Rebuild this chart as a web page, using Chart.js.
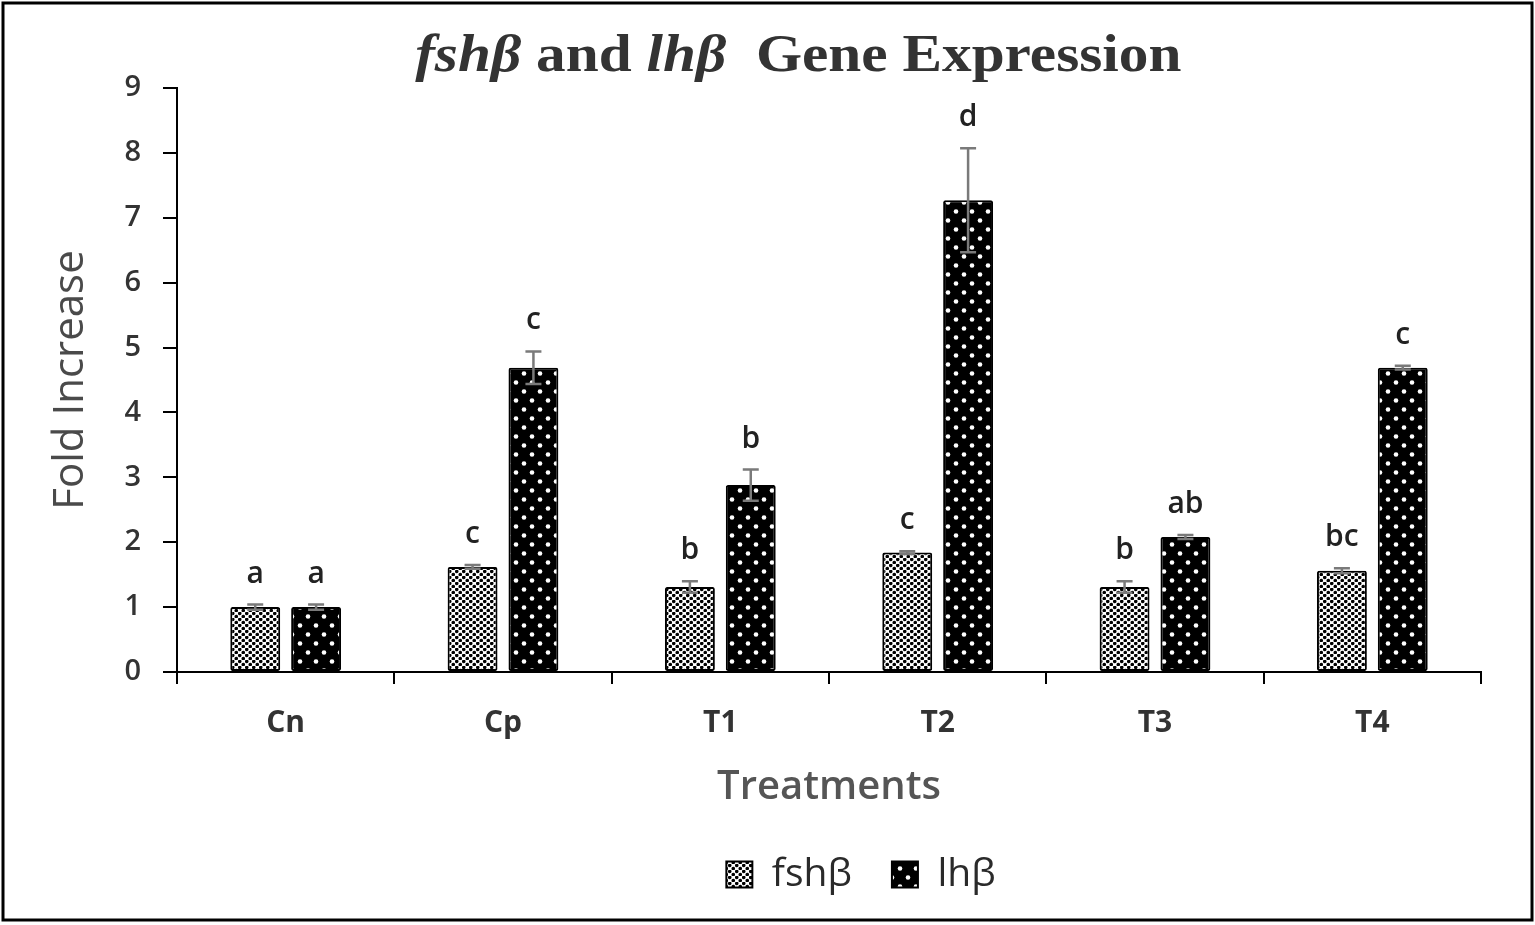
<!DOCTYPE html>
<html>
<head>
<meta charset="utf-8">
<script src="https://cdn.jsdelivr.net/npm/chart.js@4.4.1/dist/chart.umd.min.js"></script>
<style>
  html, body { margin: 0; padding: 0; background: #fff; }
  #wrap { width: 1535px; height: 925px; }
</style>
</head>
<body>
<div id="wrap"><canvas id="myChart" width="1535" height="925"></canvas></div>
<script>
const treatments = ['Cn', 'Cp', 'T1', 'T2', 'T3', 'T4'];
const fshValues = [1.00, 1.62, 1.31, 1.84, 1.31, 1.56];
const fshErrors = [0.04, 0.03, 0.09, 0.02, 0.09, 0.04];
const fshLetters = ['a', 'c', 'b', 'c', 'b', 'bc'];
const lhValues = [1.00, 4.69, 2.88, 7.27, 2.08, 4.69];
const lhErrors = [0.04, 0.25, 0.24, 0.80, 0.03, 0.03];
const lhLetters = ['a', 'c', 'b', 'd', 'ab', 'c'];
const yTicks = [0, 1, 2, 3, 4, 5, 6, 7, 8, 9];

const errors = [fshErrors, lhErrors];
const letters = [fshLetters, lhLetters];

// dotted fills like the original Excel patterns
function makePattern(bg, fg, w, h, dots, r) {
    const c = document.createElement('canvas');
    c.width = w;
    c.height = h;
    const g = c.getContext('2d');
    g.fillStyle = bg;
    g.fillRect(0, 0, w, h);
    g.fillStyle = fg;
    dots.forEach(d => {
        g.beginPath();
        g.arc(d[0], d[1], r, 0, Math.PI * 2);
        g.fill();
    });
    return g.createPattern(c, 'repeat');
}

const ctx = document.getElementById('myChart').getContext('2d');
const fshFill = makePattern('#ffffff', '#000000', 7, 6, [[1.75, 1.5], [5.25, 4.5]], 1.8);
const lhFill = makePattern('#000000', '#ffffff', 16, 18, [[4, 4.5], [12, 13.5]], 2.3);

const frame = {
    id: 'frame',
    afterDraw(chart) {
        const c = chart.ctx;
        c.save();
        c.strokeStyle = '#000';
        c.lineWidth = 3;
        c.strokeRect(3, 3, chart.width - 6, chart.height - 8);
        c.restore();
    }
};

// the original legend sits a little right of the plot centre
const legendShift = {
    id: 'legendShift',
    afterLayout(chart) {
        if (chart.legend) {
            chart.legend.left += 32;
            chart.legend.right += 32;
        }
    }
};

const mixedTitle = {
    id: 'mixedTitle',
    afterDraw(chart) {
        const c = chart.ctx;
        const parts = [
            { t: 'fshβ', i: true },
            { t: ' and ', i: false },
            { t: 'lhβ', i: true },
            { t: '  Gene Expression', i: false }
        ];
        const fontOf = p => (p.i ? 'italic ' : '') + 'bold 52px "Liberation Serif", "DejaVu Serif", serif';
        const stretch = 1.14;
        c.save();
        let total = 0;
        parts.forEach(p => { c.font = fontOf(p); total += c.measureText(p.t).width; });
        const area = chart.chartArea;
        const cx = (chart.width / 2 + (area.left + area.right) / 2) / 2;
        c.translate(cx - total * stretch / 2, 71);
        c.scale(stretch, 1);
        let x = 0;
        c.fillStyle = '#333333';
        c.textBaseline = 'alphabetic';
        parts.forEach(p => {
            c.font = fontOf(p);
            c.fillText(p.t, x, 0);
            x += c.measureText(p.t).width;
        });
        c.restore();
    }
};

const errorBars = {
    id: 'errorBars',
    afterDatasetsDraw(chart) {
        const c = chart.ctx;
        const y = chart.scales.y;
        c.save();
        chart.data.datasets.forEach((ds, i) => {
            const meta = chart.getDatasetMeta(i);
            meta.data.forEach((bar, j) => {
                const v = ds.data[j];
                const e = errors[i][j];
                const top = y.getPixelForValue(v + e);
                const bot = y.getPixelForValue(v - e);
                c.strokeStyle = '#7a7a7a';
                c.lineWidth = 2.5;
                c.beginPath();
                c.moveTo(bar.x, top);
                c.lineTo(bar.x, bot);
                c.moveTo(bar.x - 8, top);
                c.lineTo(bar.x + 8, top);
                c.moveTo(bar.x - 8, bot);
                c.lineTo(bar.x + 8, bot);
                c.stroke();
                c.fillStyle = '#222222';
                c.font = '600 30px "Open Sans", sans-serif';
                c.textAlign = 'center';
                c.textBaseline = 'alphabetic';
                c.fillText(letters[i][j], bar.x, top - 22);
            });
        });
        c.restore();
    }
};

new Chart(ctx, {
    type: 'bar',
    data: {
        labels: treatments,
        datasets: [
            {
                label: 'fshβ',
                data: fshValues,
                backgroundColor: fshFill,
                borderColor: '#000000',
                borderWidth: 2,
                borderRadius: 2,
                borderSkipped: false
            },
            {
                label: 'lhβ',
                data: lhValues,
                backgroundColor: lhFill,
                borderColor: '#000000',
                borderWidth: 2,
                borderRadius: 2,
                borderSkipped: false
            }
        ]
    },
    options: {
        responsive: false,
        animation: false,
        devicePixelRatio: 1,
        layout: {
            padding: { top: 88, left: 10, right: 54, bottom: 21 }
        },
        datasets: {
            bar: { categoryPercentage: 0.56, barPercentage: 0.82 }
        },
        plugins: {
            title: { display: false },
            tooltip: { enabled: false },
            legend: {
                position: 'bottom',
                fullSize: false,
                labels: {
                    color: '#2a2a2a',
                    font: { family: '"Open Sans", sans-serif', size: 39 },
                    boxWidth: 26,
                    boxHeight: 26,
                    padding: 40
                }
            }
        },
        scales: {
            x: {
                afterFit(scale) { scale.height = 143; },
                border: { display: true, color: '#000', width: 2 },
                grid: {
                    offset: true,
                    drawOnChartArea: false,
                    color: '#000',
                    lineWidth: 2,
                    tickLength: 12
                },
                ticks: {
                    color: '#333333',
                    padding: 21,
                    font: { family: '"Open Sans", sans-serif', size: 30, weight: 'bold' }
                },
                title: {
                    display: true,
                    text: 'Treatments',
                    color: '#555555',
                    padding: { top: 0, bottom: 3 },
                    font: { family: '"Open Sans", sans-serif', size: 40, weight: '600' }
                }
            },
            y: {
                min: 0,
                max: 9,
                afterFit(scale) { scale.width = 167; },
                afterBuildTicks(scale) { scale.ticks = yTicks.map(v => ({ value: v })); },
                border: { display: true, color: '#000', width: 2 },
                grid: {
                    drawOnChartArea: false,
                    color: '#000',
                    lineWidth: 2,
                    tickLength: 14
                },
                ticks: {
                    color: '#333333',
                    padding: 22,
                    font: { family: '"Open Sans", sans-serif', size: 29, weight: '600' }
                },
                title: {
                    display: true,
                    text: 'Fold Increase',
                    color: '#4a4a4a',
                    padding: { top: 36, bottom: 0 },
                    font: { family: '"Open Sans", sans-serif', size: 42 }
                }
            }
        }
    },
    plugins: [legendShift, mixedTitle, errorBars, frame]
});
</script>
</body>
</html>
